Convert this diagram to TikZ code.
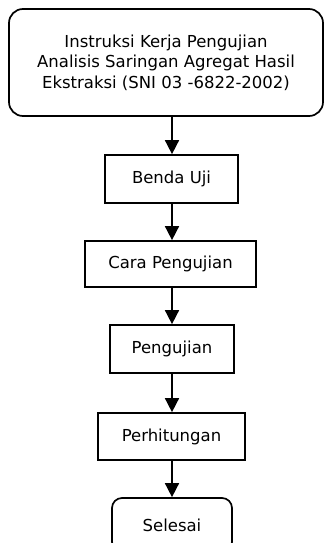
\documentclass[tikz,border=0pt]{standalone}
\usepackage{fontspec}
\setmainfont{DejaVu Sans}
\usetikzlibrary{arrows.meta}
\tikzset{
  box/.style={draw=black, line width=1.7pt, fill=white, inner sep=0pt, align=center,
    font=\fontsize{16.5}{20.5}\selectfont},
  rbox/.style={box, rounded corners=14pt},
  flow/.style={line width=1.6pt, -{Triangle[width=14pt,length=14pt]}}
}
\begin{document}
\begin{tikzpicture}[x=1pt,y=-1pt]
\useasboundingbox (0,0) rectangle (324,543);
\clip (0,0) rectangle (324,543);
\node[rbox, minimum width=314pt, minimum height=107pt] (top) at (166,62.5)
  {Instruksi Kerja Pengujian\\Analisis Saringan Agregat Hasil\\Ekstraksi (SNI 03 -6822-2002)};
\node[box, minimum width=133pt, minimum height=48pt] (benda) at (171.5,179) {Benda Uji};
\node[box, minimum width=171pt, minimum height=46pt] (cara) at (170.5,264) {Cara Pengujian};
\node[box, minimum width=124pt, minimum height=48pt] (uji) at (172,349) {Pengujian};
\node[box, minimum width=147pt, minimum height=47pt] (hitung) at (171.5,436.5) {Perhitungan};
\node[rbox, rounded corners=10pt, minimum width=120pt, minimum height=54pt] (selesai) at (172,525) {Selesai};
\draw[flow] (top.south -| 172,0) -- (benda.north -| 172,0);
\draw[flow] (benda.south -| 172,0) -- (cara.north -| 172,0);
\draw[flow] (cara.south -| 172,0) -- (uji.north -| 172,0);
\draw[flow] (uji.south -| 172,0) -- (hitung.north -| 172,0);
\draw[flow] (hitung.south -| 172,0) -- (selesai.north -| 172,0);
\end{tikzpicture}
\end{document}
